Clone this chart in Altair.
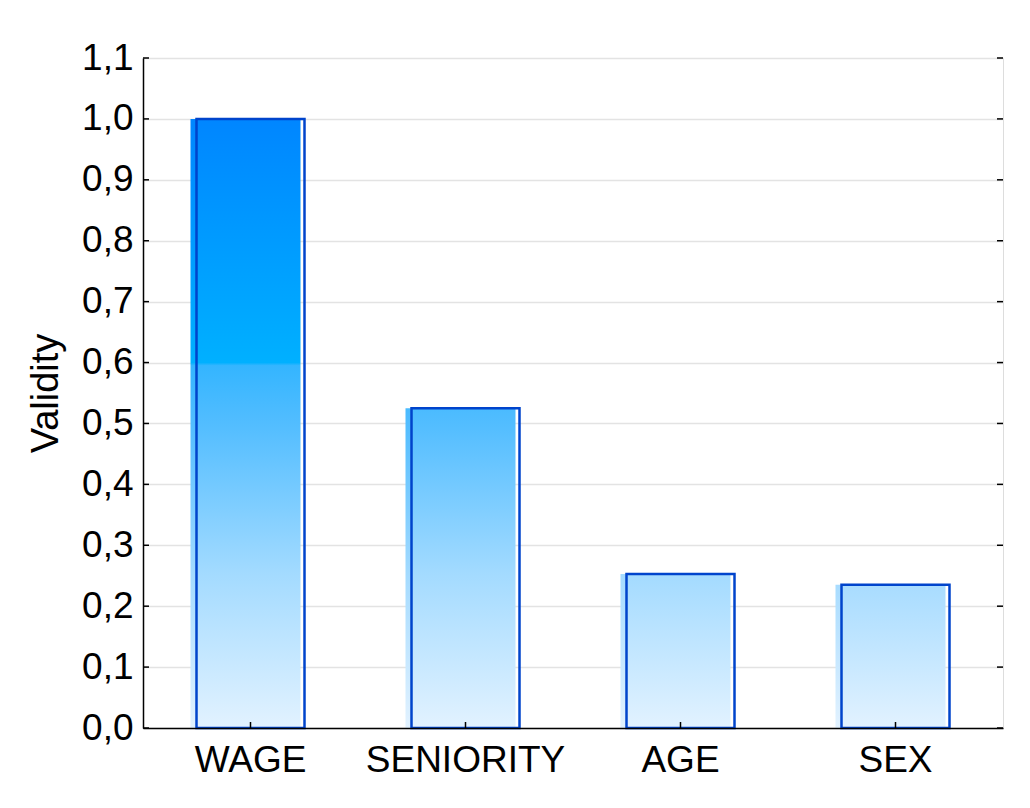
import altair as alt
import pandas as pd

categories = ["WAGE", "SENIORITY", "AGE", "SEX"]
validity = [1.0, 0.525, 0.253, 0.235]
y_ticks = [0.0, 0.1, 0.2, 0.3, 0.4, 0.5, 0.6, 0.7, 0.8, 0.9, 1.0, 1.1]

# colour ramp keyed to the y value (style only)
palette = [(0.0, "#e2f2ff"), (0.25, "#a4dbff"), (0.5, "#52bdff"),
           (0.595, "#34b5ff"), (0.6, "#00b0ff"), (1.0, "#0086ff")]

W, H = 860, 670
FONT = "Liberation Sans"


def hex2rgb(h):
    h = h.lstrip("#")
    return [int(h[i:i + 2], 16) for i in (0, 2, 4)]


def interp(v):
    for (s0, c0), (s1, c1) in zip(palette[:-1], palette[1:]):
        if s0 <= v <= s1:
            t = 0 if s1 == s0 else (v - s0) / (s1 - s0)
            a, b = hex2rgb(c0), hex2rgb(c1)
            return "#" + "".join(f"{round(x + (y - x) * t):02x}" for x, y in zip(a, b))
    return palette[-1][1]


def grad(v):
    stops = [(0.0, interp(v))] + [(1 - s / v, c) for s, c in palette if s < v]
    stops.sort(key=lambda p: p[0])
    return alt.LinearGradient(
        gradient="linear", x1=0, x2=0, y1=0, y2=1,
        stops=[alt.GradientStop(offset=o, color=c) for o, c in stops])


df = pd.DataFrame({"cat": categories, "val": validity})
tick_df = pd.DataFrame({"t": y_ticks})

x_enc = alt.X("cat:N", sort=categories,
              scale=alt.Scale(paddingInner=0.5, paddingOuter=0.25),
              axis=alt.Axis(title=None, labelAngle=0, labelFont=FONT, labelFontSize=37,
                            labelColor="black", labelPadding=14, labelLimit=0, tickSize=0,
                            domainColor="black", domainWidth=1.5, zindex=1))
y_enc = alt.Y("val:Q", scale=alt.Scale(domain=[0, 1.1], nice=False),
              axis=alt.Axis(title="Validity", values=y_ticks, format=".1f",
                            labelExpr="replace(datum.label, '.', ',')",
                            labelFont=FONT, labelFontSize=37, labelColor="black",
                            labelPadding=10, tickSize=0, grid=True,
                            gridColor="#e3e3e3", gridWidth=1.5,
                            domainColor="black", domainWidth=1.5,
                            titleFont=FONT, titleFontSize=38, titleFontWeight="normal",
                            titleColor="black", titlePadding=16))

base = alt.Chart(df)
layers = []
for c, v in zip(categories, validity):
    layers.append(base.transform_filter(alt.datum.cat == c)
                  .mark_bar(color=grad(v), xOffset=-5, width=110)
                  .encode(x=x_enc, y=y_enc))
outline = base.mark_bar(fill="white", fillOpacity=0, stroke="#0044cc", strokeWidth=2.5,
                        width=108).encode(x=x_enc, y=y_enc)

ytick_l = alt.Chart(tick_df).mark_rule(color="black", strokeWidth=1.5).encode(
    y=alt.Y("t:Q"), x=alt.value(0), x2=alt.value(6))
ytick_r = alt.Chart(tick_df).mark_rule(color="black", strokeWidth=1.5).encode(
    y=alt.Y("t:Q"), x=alt.value(W - 6), x2=alt.value(W))
xtick = base.mark_rule(color="black", strokeWidth=1.5).encode(
    x=alt.X("cat:N", sort=categories), y=alt.value(H), y2=alt.value(H - 6))

chart = alt.layer(*layers, outline, ytick_l, ytick_r, xtick).properties(
    width=W, height=H,
    autosize=alt.AutoSizeParams(type="none"),
    padding={"left": 135, "top": 50, "right": 19, "bottom": 72},
).configure_view(stroke="black", strokeWidth=1.5).configure(background="white")

chart.save("out.html", embed_options={"renderer": "svg", "actions": False})
